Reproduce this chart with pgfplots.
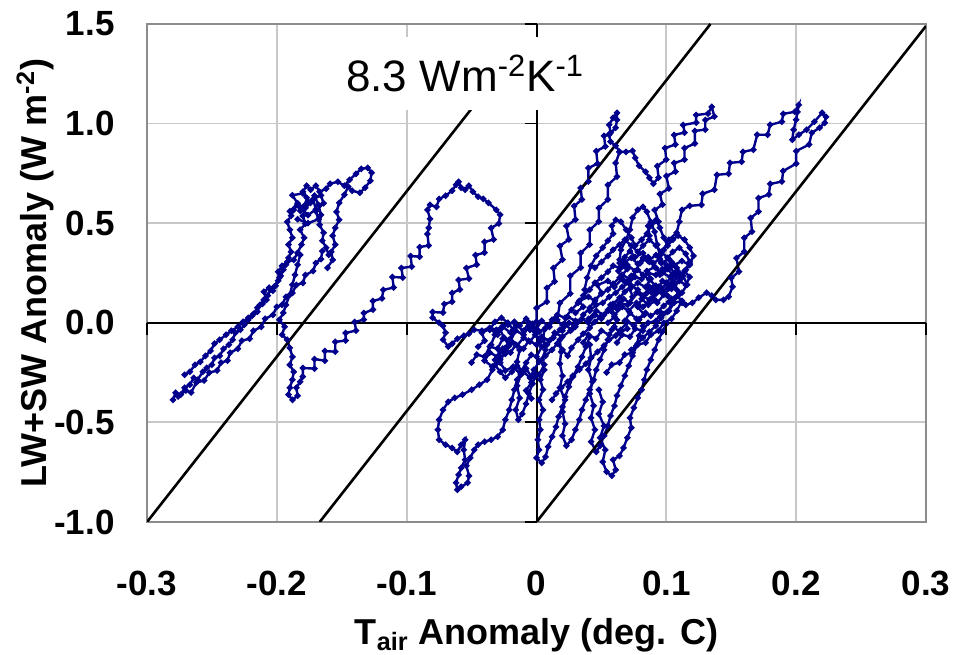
\documentclass[border=0pt]{standalone}
\usepackage{pgfplots}
\pgfplotsset{compat=1.18}
\usepackage{fontspec}
\setmainfont{Liberation Sans}
\definecolor{navytr}{RGB}{0,0,140}
\definecolor{gridc}{RGB}{200,200,200}
\definecolor{framec}{RGB}{140,140,140}
\begin{document}
\begin{tikzpicture}
\pgfplotsset{
  trajline/.style={navytr, line width=1.2pt, mark=*, mark size=0.9pt,
    mark options={draw=navytr, fill=navytr}},
}
\begin{axis}[name=ax,
  width=389.5pt, height=249pt, scale only axis,
  xmin=-0.3, xmax=0.3, ymin=-1, ymax=1.5,
  xtick={-0.3,-0.2,-0.1,0,0.1,0.2,0.3},
  xticklabels={-0.3,-0.2,-0.1,0,0.1,0.2,0.3},
  ytick={-1,-0.5,0,0.5,1,1.5},
  yticklabels={-1.0,-0.5,0.0,0.5,1.0,1.5},
  major tick length=0pt,
  grid=major,
  major grid style={gridc, line width=0.9pt},
  axis line style={framec, line width=0.9pt},
  tick label style={font=\fontsize{17.5}{20}\selectfont\bfseries, text=black},
  xticklabel style={yshift=-21pt},
  yticklabel style={xshift=-12.7pt},
  xlabel={T\textsubscript{air} Anomaly (deg. C)},
  ylabel={LW+SW Anomaly (W m\textsuperscript{-2})},
  label style={font=\fontsize{18}{21}\selectfont\bfseries},
  xlabel style={at={(axis description cs:0.5,-0.179)}, anchor=north},
  ylabel style={at={(axis description cs:-0.110,0.5)}, anchor=south},
]
% axis lines through zero
\addplot[black, line width=1pt] coordinates {(-0.3,0) (0.3,0)};
\addplot[black, line width=1pt] coordinates {(0,-1) (0,1.5)};

% left cluster
\addplot[trajline] coordinates {
(-0.280,-0.387) (-0.278,-0.351) (-0.274,-0.361) (-0.271,-0.326) (-0.267,-0.311)
(-0.264,-0.276) (-0.261,-0.286) (-0.257,-0.246) (-0.254,-0.226) (-0.250,-0.211)
(-0.248,-0.176) (-0.244,-0.166) (-0.241,-0.131) (-0.237,-0.110) (-0.234,-0.085)
(-0.232,-0.050) (-0.228,-0.035) (-0.225,-0.010) (-0.222,0.015) (-0.219,0.035)
(-0.215,0.055) (-0.213,0.090) (-0.210,0.115) (-0.207,0.136) (-0.205,0.166)
(-0.202,0.181) (-0.199,0.211) (-0.197,0.236) (-0.195,0.266) (-0.193,0.291)
(-0.191,0.326) (-0.189,0.356) (-0.191,0.392) (-0.188,0.427) (-0.190,0.467)
(-0.192,0.507) (-0.189,0.537) (-0.187,0.567) (-0.184,0.592) (-0.182,0.562)
(-0.178,0.592) (-0.177,0.628) (-0.180,0.658) (-0.177,0.688) (-0.174,0.668)
(-0.170,0.688) (-0.167,0.658) (-0.162,0.673) (-0.159,0.698) (-0.153,0.708)
(-0.148,0.688) (-0.144,0.718) (-0.139,0.748) (-0.135,0.773) (-0.130,0.778)
(-0.127,0.753) (-0.128,0.713) (-0.132,0.678) (-0.136,0.653) (-0.142,0.663)
(-0.145,0.683) (-0.148,0.643) (-0.152,0.602) (-0.154,0.557) (-0.152,0.517)
(-0.155,0.477) (-0.157,0.437) (-0.155,0.392) (-0.158,0.356) (-0.157,0.316)
(-0.161,0.276)
};
\addplot[trajline] coordinates {
(-0.271,-0.261) (-0.267,-0.246) (-0.263,-0.211) (-0.259,-0.196) (-0.255,-0.166)
(-0.251,-0.141) (-0.248,-0.105) (-0.244,-0.085) (-0.239,-0.060) (-0.235,-0.040)
(-0.230,-0.020) (-0.226,0.005) (-0.222,0.025) (-0.218,0.045) (-0.215,0.075)
(-0.211,0.095) (-0.208,0.115) (-0.210,0.156) (-0.206,0.176) (-0.203,0.161)
(-0.201,0.186) (-0.198,0.226) (-0.199,0.256) (-0.196,0.286) (-0.192,0.306)
(-0.187,0.316) (-0.184,0.351) (-0.181,0.392) (-0.179,0.427) (-0.182,0.467)
(-0.178,0.497) (-0.180,0.537) (-0.178,0.577) (-0.174,0.602) (-0.171,0.638)
(-0.168,0.592) (-0.166,0.542) (-0.167,0.492) (-0.164,0.452) (-0.165,0.412)
(-0.162,0.377) (-0.160,0.341)
};
\addplot[trajline] coordinates {
(-0.276,-0.370) (-0.270,-0.340) (-0.266,-0.350) (-0.262,-0.300) (-0.256,-0.290)
(-0.252,-0.250) (-0.246,-0.240) (-0.243,-0.200) (-0.238,-0.190) (-0.236,-0.150)
(-0.230,-0.130) (-0.227,-0.090) (-0.221,-0.080) (-0.218,-0.040) (-0.212,-0.020)
(-0.209,0.020) (-0.203,0.040) (-0.200,0.080) (-0.196,0.090) (-0.193,0.130)
(-0.188,0.150) (-0.185,0.190) (-0.180,0.200) (-0.178,0.240) (-0.172,0.260)
(-0.170,0.300) (-0.166,0.320) (-0.165,0.360)
};
\addplot[trajline] coordinates {
(-0.190,0.560) (-0.184,0.600) (-0.188,0.640) (-0.180,0.650) (-0.176,0.610)
(-0.182,0.580) (-0.176,0.540) (-0.170,0.570) (-0.172,0.620) (-0.166,0.640)
(-0.164,0.600) (-0.170,0.560) (-0.168,0.520) (-0.176,0.500) (-0.184,0.520)
};
% middle loop
\addplot[trajline] coordinates {
(-0.182,0.341) (-0.184,0.291) (-0.186,0.241) (-0.188,0.191) (-0.190,0.141)
(-0.193,0.090) (-0.195,0.050) (-0.198,0.015) (-0.194,-0.020) (-0.196,-0.060)
(-0.192,-0.085) (-0.190,-0.126) (-0.188,-0.171) (-0.190,-0.211) (-0.187,-0.246)
(-0.188,-0.286) (-0.190,-0.326) (-0.191,-0.361) (-0.188,-0.387) (-0.184,-0.366)
(-0.185,-0.326) (-0.182,-0.296) (-0.180,-0.270) (-0.180,-0.227) (-0.171,-0.230)
(-0.171,-0.182) (-0.163,-0.190) (-0.163,-0.142) (-0.155,-0.145) (-0.155,-0.096)
(-0.147,-0.089) (-0.147,-0.051) (-0.139,-0.039) (-0.140,0.004) (-0.133,0.016)
(-0.133,0.049) (-0.126,0.066) (-0.126,0.109) (-0.119,0.122) (-0.118,0.165)
(-0.110,0.177) (-0.111,0.230) (-0.103,0.227) (-0.104,0.275) (-0.096,0.282)
(-0.097,0.335) (-0.090,0.332) (-0.090,0.380) (-0.083,0.388) (-0.084,0.446)
(-0.083,0.477) (-0.082,0.522) (-0.084,0.567) (-0.082,0.592) (-0.077,0.582)
(-0.075,0.622) (-0.070,0.638) (-0.065,0.663) (-0.062,0.693) (-0.060,0.708)
(-0.058,0.678) (-0.055,0.668) (-0.052,0.688) (-0.049,0.658) (-0.045,0.633)
(-0.041,0.622) (-0.037,0.602) (-0.031,0.567) (-0.028,0.542) (-0.029,0.498)
(-0.035,0.476) (-0.033,0.418) (-0.040,0.406) (-0.040,0.352) (-0.047,0.340)
(-0.046,0.292) (-0.054,0.275) (-0.052,0.222) (-0.060,0.215) (-0.059,0.167)
(-0.065,0.150) (-0.065,0.106) (-0.071,0.094) (-0.072,0.051) (-0.080,0.054)
(-0.080,0.025) (-0.075,0.000) (-0.072,-0.015) (-0.070,-0.050) (-0.072,-0.085)
(-0.068,-0.120) (-0.065,-0.105) (-0.061,-0.080) (-0.056,-0.065) (-0.052,-0.055)
(-0.048,-0.035) (-0.042,-0.040) (-0.036,-0.025) (-0.031,-0.035) (-0.026,-0.015)
(-0.022,-0.010) (-0.017,0.005)
};
% lower loop
\addplot[trajline] coordinates {
(-0.017,-0.035) (-0.021,-0.085) (-0.025,-0.146) (-0.028,-0.186) (-0.034,-0.236)
(-0.038,-0.286) (-0.044,-0.311) (-0.050,-0.336) (-0.057,-0.361) (-0.063,-0.377)
(-0.068,-0.397) (-0.072,-0.437) (-0.075,-0.487) (-0.076,-0.537) (-0.075,-0.587)
(-0.070,-0.612) (-0.065,-0.628) (-0.061,-0.648) (-0.058,-0.612) (-0.055,-0.587)
(-0.056,-0.638) (-0.055,-0.688) (-0.058,-0.728) (-0.060,-0.763) (-0.062,-0.803)
(-0.061,-0.838) (-0.058,-0.823) (-0.053,-0.803) (-0.052,-0.768) (-0.054,-0.718)
(-0.051,-0.678) (-0.048,-0.638) (-0.045,-0.612) (-0.040,-0.597) (-0.035,-0.587)
(-0.030,-0.572) (-0.026,-0.537) (-0.024,-0.487) (-0.021,-0.437) (-0.019,-0.387)
(-0.017,-0.336) (-0.015,-0.286) (-0.012,-0.246) (-0.008,-0.201) (-0.004,-0.161)
};
% strands up to the two peaks
\addplot[trajline] coordinates {
(-0.005,-0.035) (0.000,0.006) (0.000,0.074) (0.008,0.106) (0.008,0.175)
(0.014,0.207) (0.013,0.275) (0.020,0.317) (0.018,0.386) (0.025,0.418)
(0.023,0.486) (0.030,0.518) (0.029,0.586) (0.035,0.619) (0.034,0.677)
(0.040,0.709) (0.040,0.777) (0.047,0.799) (0.046,0.862) (0.053,0.885)
(0.052,0.938) (0.057,0.954) (0.056,0.994) (0.059,1.029) (0.062,1.054)
(0.062,1.019) (0.061,0.979) (0.056,0.944) (0.057,0.909) (0.061,0.889)
(0.064,0.858) (0.069,0.858) (0.074,0.863) (0.076,0.828) (0.079,0.788)
(0.084,0.758) (0.087,0.728) (0.090,0.698) (0.094,0.729) (0.093,0.787)
(0.100,0.819) (0.099,0.877) (0.107,0.895) (0.106,0.943) (0.114,0.955)
(0.113,0.993) (0.123,1.005) (0.123,1.043) (0.132,1.050) (0.135,1.084)
(0.137,1.035) (0.130,1.018) (0.130,0.970) (0.122,0.963) (0.122,0.900)
(0.114,0.877) (0.114,0.819) (0.106,0.802) (0.107,0.759) (0.100,0.737)
(0.102,0.674) (0.095,0.647) (0.097,0.593) (0.091,0.566) (0.094,0.508)
(0.086,0.486) (0.087,0.437)
};
\addplot[trajline] coordinates {
(0.016,0.015) (0.018,0.099) (0.026,0.147) (0.026,0.235) (0.034,0.277)
(0.034,0.350) (0.041,0.393) (0.041,0.466) (0.048,0.508) (0.048,0.576)
(0.055,0.619) (0.055,0.692) (0.062,0.734) (0.061,0.802) (0.064,0.858)
};
% big right loop
\addplot[trajline] coordinates {
(0.095,0.316) (0.098,0.366) (0.102,0.417) (0.108,0.452) (0.110,0.507)
(0.112,0.567) (0.118,0.587) (0.127,0.592) (0.128,0.648) (0.137,0.668)
(0.139,0.743) (0.148,0.748) (0.149,0.803) (0.158,0.808) (0.159,0.858)
(0.167,0.869) (0.170,0.944) (0.178,0.944) (0.180,0.994) (0.189,1.009)
(0.190,1.049) (0.199,1.059) (0.202,1.094) (0.201,1.059) (0.200,1.019)
(0.198,0.969) (0.197,0.919) (0.202,0.944) (0.208,0.969) (0.214,1.009)
(0.220,1.054) (0.223,1.034) (0.222,1.004) (0.218,0.979) (0.212,0.954)
(0.210,0.895) (0.200,0.862) (0.200,0.799) (0.190,0.762) (0.189,0.709)
(0.180,0.697) (0.179,0.644) (0.171,0.626) (0.171,0.558) (0.165,0.526)
(0.166,0.458) (0.160,0.426) (0.160,0.357) (0.154,0.325) (0.156,0.257)
(0.150,0.225) (0.151,0.181) (0.148,0.131) (0.144,0.115) (0.138,0.115)
(0.135,0.136) (0.131,0.151) (0.125,0.126) (0.120,0.100) (0.115,0.090)
(0.112,0.100) (0.109,0.136) (0.108,0.166)
};
\addplot[trajline] coordinates {
(0.064,0.316) (0.065,0.366) (0.069,0.417) (0.072,0.467) (0.074,0.527)
(0.078,0.567) (0.082,0.582) (0.085,0.557) (0.088,0.507) (0.091,0.457)
(0.093,0.392) (0.095,0.341)
};
% dense central cluster
\addplot[trajline] coordinates {
(-0.036,-0.035) (-0.032,0.005) (-0.027,0.025) (-0.022,0.000) (-0.018,-0.035)
(-0.013,-0.015) (-0.008,0.020) (-0.003,-0.005) (0.002,-0.045) (0.007,-0.025)
(0.012,0.015) (0.016,0.040) (0.022,0.025) (0.027,0.065) (0.032,0.100)
(0.036,0.136) (0.041,0.166) (0.045,0.201) (0.050,0.226) (0.055,0.256)
(0.059,0.286) (0.064,0.276) (0.068,0.306) (0.073,0.326) (0.078,0.296)
(0.082,0.326) (0.087,0.306) (0.092,0.276) (0.095,0.241) (0.099,0.266)
(0.104,0.306) (0.108,0.276) (0.113,0.236) (0.116,0.191) (0.112,0.151)
(0.107,0.126) (0.102,0.105) (0.098,0.085) (0.093,0.055) (0.088,0.035)
(0.084,0.050) (0.079,0.015) (0.075,-0.015) (0.070,0.005) (0.065,-0.035)
(0.061,-0.065) (0.056,-0.085) (0.052,-0.115) (0.047,-0.146) (0.042,-0.176)
(0.038,-0.206) (0.033,-0.236) (0.028,-0.266) (0.024,-0.296) (0.019,-0.326)
(0.015,-0.356) (0.012,-0.387)
};
\addplot[trajline] coordinates {
(-0.032,-0.186) (-0.028,-0.146) (-0.024,-0.126) (-0.019,-0.095) (-0.015,-0.115)
(-0.010,-0.075) (-0.005,-0.095) (-0.001,-0.060) (0.004,-0.085) (0.008,-0.110)
(0.013,-0.075) (0.018,-0.035) (0.022,-0.010) (0.027,-0.035) (0.032,0.005)
(0.036,0.040) (0.041,0.075) (0.045,0.115) (0.050,0.146) (0.055,0.166)
(0.059,0.196) (0.064,0.226) (0.068,0.206) (0.073,0.236) (0.078,0.266)
(0.082,0.241) (0.087,0.216) (0.092,0.186) (0.096,0.156) (0.101,0.176)
(0.105,0.206) (0.110,0.236) (0.115,0.266) (0.118,0.306) (0.115,0.346)
(0.110,0.377) (0.105,0.356) (0.101,0.326) (0.096,0.356) (0.092,0.387)
(0.087,0.417) (0.082,0.387) (0.078,0.356) (0.073,0.387) (0.068,0.417)
(0.064,0.392) (0.059,0.366) (0.055,0.336) (0.050,0.306) (0.045,0.276)
};
\addplot[trajline] coordinates {
(-0.035,-0.110) (-0.032,-0.060) (-0.028,-0.035) (-0.025,-0.075) (-0.021,-0.115)
(-0.024,-0.156) (-0.028,-0.176) (-0.032,-0.211) (-0.028,-0.246) (-0.024,-0.276)
(-0.019,-0.246) (-0.015,-0.216) (-0.010,-0.246) (-0.005,-0.276) (-0.002,-0.236)
(0.002,-0.196) (0.007,-0.166) (0.012,-0.136) (0.016,-0.105) (0.020,-0.136)
(0.024,-0.166) (0.027,-0.126) (0.032,-0.085) (0.036,-0.055) (0.041,-0.025)
(0.045,0.005) (0.050,0.035) (0.055,0.065) (0.059,0.095) (0.064,0.126)
(0.068,0.156) (0.073,0.186) (0.078,0.166) (0.082,0.136) (0.087,0.115)
(0.092,0.146) (0.096,0.176) (0.101,0.136) (0.104,0.095) (0.101,0.055)
(0.096,0.025) (0.092,-0.015) (0.087,-0.045) (0.082,-0.075) (0.078,-0.105)
(0.073,-0.136)
};
\addplot[trajline] coordinates {
(0.037,0.166) (0.039,0.226) (0.042,0.286) (0.046,0.336) (0.051,0.377)
(0.055,0.412) (0.059,0.447) (0.058,0.487) (0.061,0.517) (0.065,0.507)
(0.069,0.467) (0.073,0.427) (0.076,0.387) (0.081,0.417) (0.085,0.447)
(0.088,0.487) (0.092,0.517) (0.095,0.477) (0.098,0.427) (0.101,0.387)
(0.105,0.417) (0.109,0.437) (0.114,0.417) (0.118,0.377) (0.121,0.336)
(0.118,0.296)
};
\addplot[trajline] coordinates {
(0.030,0.050) (0.036,0.080) (0.033,0.110) (0.040,0.130) (0.045,0.110)
(0.050,0.150) (0.047,0.190) (0.055,0.210) (0.060,0.180) (0.066,0.220)
(0.063,0.260) (0.070,0.290) (0.076,0.260) (0.080,0.300) (0.086,0.330)
(0.090,0.300) (0.095,0.320) (0.100,0.290) (0.097,0.250) (0.103,0.230)
(0.108,0.260) (0.111,0.220) (0.106,0.190) (0.110,0.150) (0.104,0.120)
(0.098,0.140) (0.093,0.100) (0.088,0.120) (0.082,0.080) (0.077,0.100)
(0.071,0.060) (0.066,0.080) (0.060,0.040) (0.055,0.060) (0.050,0.020)
(0.045,0.040) (0.040,0.000) (0.035,0.020) (0.030,-0.020) (0.025,0.000)
(0.020,-0.040)
};
\addplot[trajline] coordinates {
(0.055,0.000) (0.060,0.030) (0.058,0.070) (0.064,0.100) (0.070,0.090)
(0.074,0.130) (0.072,0.170) (0.078,0.200) (0.084,0.180) (0.088,0.220)
(0.085,0.260) (0.091,0.280) (0.096,0.250) (0.101,0.270) (0.105,0.240)
(0.100,0.200) (0.104,0.170) (0.098,0.150) (0.094,0.180) (0.089,0.150)
(0.092,0.110) (0.086,0.090) (0.081,0.120) (0.078,0.080) (0.083,0.040)
(0.077,0.020) (0.072,0.050) (0.068,0.010) (0.070,-0.030) (0.064,-0.050)
(0.060,-0.020) (0.056,-0.060) (0.050,-0.040) (0.046,-0.080) (0.040,-0.060)
(0.036,-0.100)
};
\addplot[trajline] coordinates {
(0.040,0.020) (0.046,0.060) (0.052,0.040) (0.057,0.090) (0.062,0.070)
(0.067,0.120) (0.072,0.100) (0.077,0.150) (0.082,0.130) (0.087,0.180)
(0.092,0.160) (0.097,0.210) (0.102,0.190) (0.107,0.240) (0.103,0.280)
(0.097,0.270) (0.092,0.240) (0.086,0.250) (0.081,0.220) (0.076,0.230)
(0.071,0.200) (0.066,0.180) (0.061,0.150) (0.056,0.130) (0.051,0.100)
(0.046,0.090) (0.041,0.060)
};
\addplot[trajline] coordinates {
(0.062,-0.100) (0.066,-0.060) (0.072,-0.070) (0.076,-0.030) (0.082,-0.040)
(0.086,0.000) (0.092,0.010) (0.096,0.050) (0.102,0.060) (0.106,0.100)
(0.112,0.110) (0.108,0.060) (0.104,0.020) (0.098,0.000) (0.094,-0.040)
(0.088,-0.060) (0.084,-0.100) (0.078,-0.110) (0.074,-0.150) (0.068,-0.160)
(0.064,-0.200) (0.058,-0.210) (0.054,-0.250)
};
\addplot[trajline] coordinates {
(-0.045,-0.120) (-0.040,-0.090) (-0.042,-0.050) (-0.036,-0.030) (-0.030,-0.060)
(-0.026,-0.020) (-0.020,-0.050) (-0.016,-0.010) (-0.010,-0.040) (-0.006,0.000)
(0.000,-0.030) (0.004,0.010) (0.010,-0.020) (0.014,0.020) (0.020,-0.010)
(0.024,0.030) (0.030,0.010) (0.026,-0.040) (0.020,-0.070) (0.014,-0.050)
(0.010,-0.090) (0.004,-0.070) (0.000,-0.110) (-0.006,-0.090) (-0.010,-0.130)
(-0.016,-0.110) (-0.020,-0.150) (-0.026,-0.130) (-0.030,-0.170) (-0.036,-0.150)
(-0.040,-0.190) (-0.034,-0.220) (-0.028,-0.200) (-0.024,-0.240) (-0.018,-0.220)
(-0.012,-0.260) (-0.008,-0.230) (-0.004,-0.270)
};
\addplot[trajline] coordinates {
(-0.050,-0.200) (-0.046,-0.160) (-0.040,-0.170) (-0.036,-0.120) (-0.030,-0.130)
(-0.026,-0.080) (-0.020,-0.090) (-0.016,-0.040) (-0.010,-0.060) (-0.006,-0.020)
(-0.002,-0.040) (0.004,-0.120) (0.000,-0.170) (0.006,-0.210) (0.002,-0.260)
(-0.004,-0.300) (-0.008,-0.340) (-0.004,-0.380)
};
\addplot[trajline] coordinates {
(0.085,0.150) (0.090,0.180) (0.095,0.160) (0.100,0.200) (0.106,0.180)
(0.110,0.210) (0.115,0.190) (0.118,0.230) (0.114,0.260) (0.118,0.290)
(0.112,0.310) (0.106,0.290) (0.102,0.320) (0.096,0.300) (0.092,0.340)
(0.086,0.310) (0.082,0.350) (0.076,0.330) (0.072,0.360) (0.068,0.330)
(0.064,0.300) (0.070,0.270) (0.066,0.240) (0.072,0.220)
};
% strands hanging below the cluster
\addplot[trajline] coordinates {
(0.006,-0.035) (0.005,-0.085) (0.007,-0.136) (0.004,-0.186) (0.006,-0.236)
(0.003,-0.286) (0.005,-0.336) (0.002,-0.387) (0.005,-0.437) (0.002,-0.487)
(0.003,-0.537) (0.001,-0.587) (0.002,-0.638) (0.000,-0.678) (0.004,-0.703)
(0.007,-0.673) (0.009,-0.622) (0.012,-0.572) (0.015,-0.522) (0.017,-0.472)
(0.020,-0.422) (0.022,-0.371) (0.025,-0.321) (0.028,-0.271) (0.032,-0.221)
(0.035,-0.171) (0.038,-0.120) (0.041,-0.070)
};
\addplot[trajline] coordinates {
(0.018,-0.085) (0.019,-0.146) (0.018,-0.206) (0.020,-0.266) (0.018,-0.326)
(0.022,-0.387) (0.020,-0.447) (0.022,-0.507) (0.020,-0.567) (0.023,-0.617)
(0.027,-0.587) (0.030,-0.537) (0.033,-0.487) (0.035,-0.437) (0.038,-0.387)
(0.041,-0.336) (0.044,-0.286) (0.046,-0.236) (0.049,-0.186) (0.052,-0.136)
(0.055,-0.085) (0.058,-0.035) (0.062,0.015)
};
\addplot[trajline] coordinates {
(0.041,-0.110) (0.042,-0.176) (0.040,-0.236) (0.043,-0.296) (0.041,-0.356)
(0.044,-0.417) (0.042,-0.477) (0.045,-0.537) (0.042,-0.597) (0.046,-0.648)
(0.049,-0.617) (0.052,-0.567) (0.055,-0.517) (0.057,-0.467) (0.060,-0.417)
(0.062,-0.366) (0.065,-0.316) (0.068,-0.266) (0.071,-0.216) (0.074,-0.166)
(0.077,-0.115) (0.079,-0.065) (0.082,-0.015)
};
\addplot[trajline] coordinates {
(0.048,-0.336) (0.051,-0.397) (0.048,-0.457) (0.052,-0.517) (0.049,-0.577)
(0.053,-0.638) (0.051,-0.698) (0.054,-0.748) (0.058,-0.768) (0.061,-0.738)
(0.059,-0.688) (0.064,-0.668) (0.067,-0.628) (0.070,-0.577) (0.073,-0.527)
(0.072,-0.477) (0.075,-0.427) (0.078,-0.377) (0.081,-0.336) (0.083,-0.286)
(0.085,-0.236) (0.088,-0.186) (0.091,-0.136) (0.094,-0.085) (0.097,-0.045)
(0.100,-0.005)
};
\addplot[trajline] coordinates {
(-0.013,-0.136) (-0.015,-0.196) (-0.012,-0.256) (-0.015,-0.316) (-0.013,-0.377)
(-0.016,-0.437) (-0.014,-0.487) (-0.011,-0.457) (-0.008,-0.407) (-0.006,-0.356)
(-0.003,-0.306) (-0.001,-0.256)
};

% 8.3 W m-2 K-1 reference lines
\addplot[black, line width=1.3pt] coordinates {(-0.3,-1) (-0.05,1.075)};
\addplot[black, line width=1.3pt] coordinates {(-0.167,-1) (0.134,1.5)};
\addplot[black, line width=1.3pt] coordinates {(0,-1) (0.3,1.49)};

\node[fill=white, inner xsep=6pt, minimum height=36.5pt,
  font=\fontsize{22}{26}\selectfont] at (axis cs:-0.055,1.2525)
  {8.3 Wm\textsuperscript{-2}K\textsuperscript{-1}};
\end{axis}
% small ticks on the zero lines
\begin{axis}[
  width=389.5pt, height=249pt, scale only axis,
  xmin=-0.3, xmax=0.3, ymin=-1, ymax=1.5,
  axis lines=middle, axis line style={draw=none},
  xtick={-0.3,-0.2,-0.1,0,0.1,0.2,0.3},
  ytick={-1,-0.5,0,0.5,1,1.5},
  xticklabels={}, yticklabels={},
  tick align=outside, major tick length=6pt,
  tick style={black, line width=0.9pt},
]
\end{axis}
\pgfresetboundingbox
\path[use as bounding box] ([shift={(-73.5pt,-66.5pt)}]ax.south west)
  rectangle ([shift={(14.5pt,12pt)}]ax.north east);
\end{tikzpicture}
\end{document}
